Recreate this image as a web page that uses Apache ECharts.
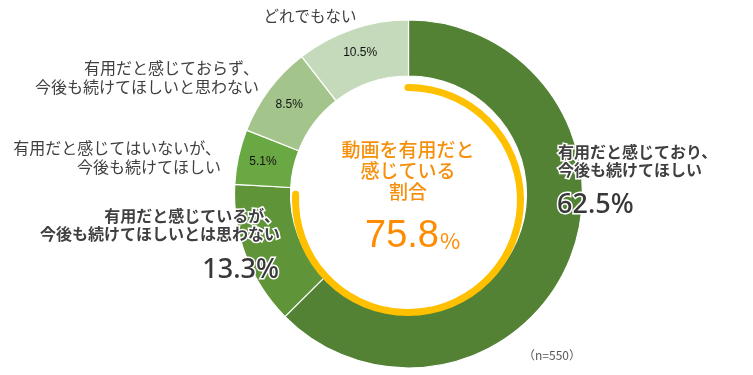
<!DOCTYPE html>
<html><head><meta charset="utf-8">
<script src="https://cdn.jsdelivr.net/npm/echarts@6/dist/echarts.min.js"></script>
<style>html,body{margin:0;padding:0;background:#fff}#c{width:753px;height:375px}</style>
</head><body><div id="c"></div>
<script>
const categories = [
  '有用だと感じており、\n今後も続けてほしい',
  '有用だと感じているが、\n今後も続けてほしいとは思わない',
  '有用だと感じてはいないが、\n今後も続けてほしい',
  '有用だと感じておらず、\n今後も続けてほしいと思わない',
  'どれでもない'
];
const values = [62.5, 13.3, 5.1, 8.5, 10.5];
const colors = ['#548235', '#5f9439', '#6aa843', '#a3c58c', '#c4dabb'];
const usefulShare = [75.8];
const centerTitle = '動画を有用だと\n感じている\n割合';
const sampleNote = '（n=550）';

const JP = '"Noto Sans CJK JP", "Noto Sans", sans-serif';
const NUM = '"Noto Sans", "Liberation Sans", sans-serif';
const TXT = '#404040';

const chart = echarts.init(document.getElementById('c'));
const pieData = values.map((v, i) => ({
  value: v, name: categories[i],
  itemStyle: { color: colors[i] },
  label: { show: i >= 2 }
}));

const graphics = [
  // bold outside labels
  { type: 'text', style: { text: categories[0], x: 558, y: 161, fill: TXT, font: 'bold 16px ' + JP, textAlign: 'left', textVerticalAlign: 'middle', lineHeight: 18, stroke: '#fff', lineWidth: 3 }, z: 10 },
  { type: 'text', style: { text: values[0].toFixed(1) + '%', x: 557, y: 205, fill: '#383838', font: '500 27px ' + NUM, textAlign: 'left', textVerticalAlign: 'middle', stroke: '#fff', lineWidth: 3 }, z: 10 },
  { type: 'text', style: { text: categories[1], x: 280, y: 225, fill: TXT, font: 'bold 16px ' + JP, textAlign: 'right', textVerticalAlign: 'middle', lineHeight: 18, stroke: '#fff', lineWidth: 3 }, z: 10 },
  { type: 'text', style: { text: values[1].toFixed(1) + '%', x: 279, y: 270, fill: '#383838', font: '500 27px ' + NUM, textAlign: 'right', textVerticalAlign: 'middle', stroke: '#fff', lineWidth: 3 }, z: 10 },
  // normal outside labels
  { type: 'text', style: { text: categories[2], x: 221, y: 147, fill: TXT, font: '16px ' + JP, textAlign: 'right', textVerticalAlign: 'top', lineHeight: 19 }, z: 10, position: [0, -9] },
  { type: 'text', style: { text: categories[3], x: 259, y: 67, fill: TXT, font: '16px ' + JP, textAlign: 'right', textVerticalAlign: 'top', lineHeight: 19 }, z: 10, position: [0, -9] },
  { type: 'text', style: { text: categories[4], x: 310, y: 16, fill: TXT, font: '15.5px ' + JP, textAlign: 'center', textVerticalAlign: 'middle' }, z: 10 },
  // center
  { type: 'text', style: { text: centerTitle, x: 408, y: 171, fill: '#f5900c', font: '500 19px ' + JP, textAlign: 'center', textVerticalAlign: 'middle', lineHeight: 21 }, z: 10 },
  { type: 'text', style: { text: usefulShare[0].toFixed(1), x: 402, y: 237, fill: '#ff8c00', font: '38px "Liberation Sans", sans-serif', textAlign: 'center', textVerticalAlign: 'middle' }, z: 10 },
  { type: 'text', style: { text: '%', x: 440, y: 241, fill: '#ff8c00', font: '22px ' + JP, textAlign: 'left', textVerticalAlign: 'middle' }, z: 10 },
  { type: 'text', style: { text: sampleNote, x: 552, y: 355, fill: '#595959', font: '12px ' + JP, textAlign: 'center', textVerticalAlign: 'middle' }, z: 10 }
];

chart.setOption({
  animation: false,
  series: [
    {
      type: 'pie',
      center: [408.5, 194],
      radius: [118, 174],
      startAngle: 90,
      clockwise: true,
      itemStyle: { borderColor: '#fff', borderWidth: 1.2 },
      label: { position: 'inside', formatter: p => p.value.toFixed(1) + '%', color: '#111', fontSize: 12, fontFamily: '"Liberation Sans", sans-serif' },
      labelLine: { show: false },
      emphasis: { disabled: true },
      data: pieData
    },
    {
      type: 'gauge',
      center: [408, 200],
      radius: 116,
      startAngle: 90,
      endAngle: -270,
      min: 0, max: 100,
      clockwise: true,
      progress: { show: true, width: 7, roundCap: true, itemStyle: { color: '#ffc000' } },
      axisLine: { show: false, lineStyle: { width: 7 } },
      axisTick: { show: false }, splitLine: { show: false }, axisLabel: { show: false },
      pointer: { show: false }, anchor: { show: false }, title: { show: false }, detail: { show: false },
      data: [{ value: usefulShare[0] }]
    }
  ],
  graphic: graphics
});
</script></body></html>
